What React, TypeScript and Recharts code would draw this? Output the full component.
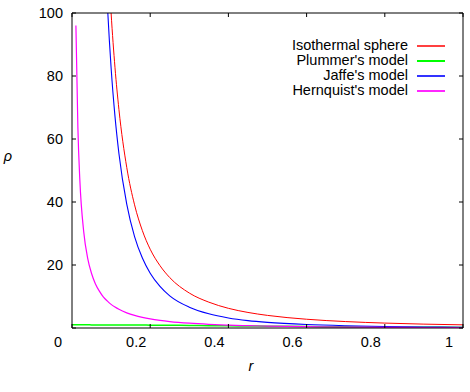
import { LineChart, Line, XAxis, YAxis, Legend } from 'recharts'

const radii = [0, 0.01, 0.015, 0.02, 0.03, 0.04, 0.05, 0.06, 0.07, 0.08, 0.09, 0.1, 0.11, 0.12, 0.14, 0.16, 0.18, 0.2, 0.225, 0.25, 0.3, 0.35, 0.4, 0.45, 0.5, 0.6, 0.7, 0.8, 0.9, 1.0]

const isothermal = [null, null, null, null, null, null, null, null, null, 156, 123, 100, 82.6, 69.4, 51, 39.1, 30.9, 25, 19.8, 16, 11.1, 8.2, 6.25, 4.94, 4.0, 2.78, 2.04, 1.56, 1.23, 1.0]
const plummer = [1, 1, 1, 1, 1, 1, 0.99, 0.99, 0.99, 0.98, 0.98, 0.975, 0.97, 0.96, 0.95, 0.94, 0.92, 0.91, 0.88, 0.86, 0.81, 0.75, 0.69, 0.63, 0.57, 0.46, 0.37, 0.29, 0.23, 0.18]
const jaffe = [null, null, null, null, null, null, null, null, null, 134, 104, 82.6, 67.1, 55.4, 39.3, 29, 22.2, 17.4, 13.2, 10.2, 6.6, 4.5, 3.2, 2.35, 1.78, 1.09, 0.71, 0.48, 0.34, 0.25]
const hernquist = [null, 96, 63.8, 47.1, 30.5, 22.2, 17.3, 14.0, 11.7, 9.9, 8.6, 7.5, 6.65, 5.93, 4.82, 4.0, 3.38, 2.89, 2.42, 2.05, 1.52, 1.16, 0.91, 0.73, 0.59, 0.41, 0.29, 0.21, 0.16, 0.125]

const xTicks = [0, 0.2, 0.4, 0.6, 0.8, 1]
const yTicks = [0, 20, 40, 60, 80, 100]

const series = [
  { key: 'iso', name: 'Isothermal sphere', color: '#ff0000', width: 1 },
  { key: 'plummer', name: "Plummer's model", color: '#00ff00', width: 1.5 },
  { key: 'jaffe', name: "Jaffe's model", color: '#0000ff', width: 1.1 },
  { key: 'hernquist', name: "Hernquist's model", color: '#ff00ff', width: 1.2 },
]

const data = radii.map((r, i) => ({
  r,
  iso: isothermal[i],
  plummer: plummer[i],
  jaffe: jaffe[i],
  hernquist: hernquist[i],
}))

const FONT = '"Liberation Sans", Arial, Helvetica, sans-serif'

function BottomTick({ x, y, payload }: any) {
  return (
    <g>
      <line x1={x} x2={x} y1={y} y2={y - 4} stroke="#000" />
      <text x={x - 14} y={y + 14} textAnchor="middle" dominantBaseline="central" fontSize={14.5} fontFamily={FONT} fill="#000">
        {String(payload.value)}
      </text>
    </g>
  )
}

function TopTick({ x, y }: any) {
  return <line x1={x} x2={x} y1={y} y2={y + 4} stroke="#000" />
}

function LeftTick({ x, y, payload }: any) {
  return (
    <g>
      <line x1={x} x2={x + 4} y1={y} y2={y} stroke="#000" />
      {payload.value !== 0 && (
        <text x={x - 9} y={y} textAnchor="end" dominantBaseline="central" fontSize={14.5} fontFamily={FONT} fill="#000">
          {String(payload.value)}
        </text>
      )}
    </g>
  )
}

function RightTick({ x, y }: any) {
  return <line x1={x} x2={x - 4} y1={y} y2={y} stroke="#000" />
}

function KeyBox() {
  return (
    <div style={{ fontFamily: FONT, fontSize: 14.5, lineHeight: '15px', color: '#000' }}>
      {series.map((s) => (
        <div key={s.key} style={{ display: 'flex', justifyContent: 'flex-end', alignItems: 'center', height: 15 }}>
          <span>{s.name}</span>
          <svg width={28} height={6} style={{ marginLeft: 9, display: 'block' }}>
            <line x1={0} x2={28} y1={3} y2={3} stroke={s.color} strokeWidth={s.width + 0.5} />
          </svg>
        </div>
      ))}
    </div>
  )
}

export default function App() {
  return (
    <div style={{ position: 'absolute', left: 0, top: 0, background: '#fff' }}>
      <LineChart width={470} height={392} data={data} margin={{ top: 0, right: 0, bottom: 34, left: 0 }}>
        <XAxis
          xAxisId="bottom"
          dataKey="r"
          type="number"
          domain={[0, 1]}
          ticks={xTicks}
          height={30}
          tickSize={0}
          tickMargin={0}
          tickLine={false}
          tick={<BottomTick />}
          axisLine={{ stroke: '#000' }}
          label={{ value: 'r', content: () => (
            <text x={251} y={366} textAnchor="middle" dominantBaseline="central" fontSize={14.5} fontStyle="italic" fontFamily={FONT}>r</text>
          ) }}
        />
        <XAxis
          xAxisId="top"
          orientation="top"
          dataKey="r"
          type="number"
          domain={[0, 1]}
          ticks={xTicks}
          height={13}
          tickSize={0}
          tickMargin={0}
          tickLine={false}
          tick={<TopTick />}
          axisLine={{ stroke: '#000' }}
        />
        <YAxis
          yAxisId="left"
          type="number"
          domain={[0, 100]}
          ticks={yTicks}
          allowDataOverflow
          width={72}
          tickSize={0}
          tickMargin={0}
          tickLine={false}
          tick={<LeftTick />}
          axisLine={{ stroke: '#000' }}
          label={{ value: 'ρ', content: () => (
            <text x={8} y={156} textAnchor="middle" dominantBaseline="central" fontSize={14.5} fontStyle="italic" fontFamily={FONT}>ρ</text>
          ) }}
        />
        <YAxis
          yAxisId="right"
          orientation="right"
          type="number"
          domain={[0, 100]}
          ticks={yTicks}
          allowDataOverflow
          width={7}
          tickSize={0}
          tickMargin={0}
          tickLine={false}
          tick={<RightTick />}
          axisLine={{ stroke: '#000' }}
        />
        {series.map((s) => (
          <Line
            key={s.key}
            xAxisId="bottom"
            yAxisId="left"
            type="monotone"
            dataKey={s.key}
            name={s.name}
            stroke={s.color}
            strokeWidth={s.width}
            dot={false}
            activeDot={false}
            isAnimationActive={false}
          />
        ))}
        <Legend
          layout="vertical"
          align="center"
          verticalAlign="middle"
          content={() => <KeyBox />}
          wrapperStyle={{ position: 'absolute', top: 38, left: 250, width: 195 }}
        />
      </LineChart>
    </div>
  )
}
